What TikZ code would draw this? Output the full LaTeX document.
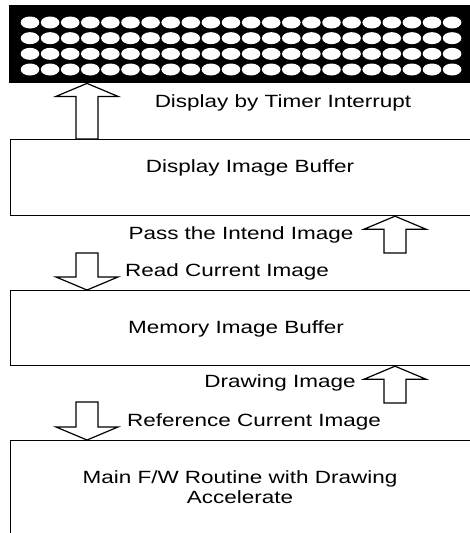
\documentclass[tikz,border=0pt]{standalone}
\usepackage{fontspec}
\setmainfont{Liberation Sans}[FakeStretch=1.27]
\usetikzlibrary{calc}
\newcommand\blkup[2]{%
  \draw[blk] let \p1=(#1), \p2=(#2) in
    (\x1-11pt,\y1) -- (\x1-11pt,\y2-13pt) -- (\x1-31pt,\y2-13pt) -- (\x1,\y2)
    -- (\x1+31pt,\y2-13pt) -- (\x1+11pt,\y2-13pt) -- (\x1+11pt,\y1) -- cycle;}
\newcommand\blkdown[2]{%
  \draw[blk] let \p1=(#1), \p2=(#2) in
    (\x1-11pt,\y1) -- (\x1-11pt,\y2+13pt) -- (\x1-31pt,\y2+13pt) -- (\x1,\y2)
    -- (\x1+31pt,\y2+13pt) -- (\x1+11pt,\y2+13pt) -- (\x1+11pt,\y1) -- cycle;}
\begin{document}
\begin{tikzpicture}[x=1pt,y=-1pt,
  lbl/.style={font=\fontsize{17.7}{20}\selectfont, inner sep=0pt},
  boxn/.style={draw, line width=1.2pt, anchor=north west, inner sep=0pt, minimum width=463pt},
  blk/.style={draw, line width=1.2pt, fill=white, line join=miter}]
\useasboundingbox (0,0) rectangle (470,533);
\clip (0,0) rectangle (470,533);
\fill[white] (0,0) rectangle (470,533);

% LED panel
\node (panel) [fill=black, anchor=north west, minimum width=466.5pt, minimum height=78pt, inner sep=0pt] at (8.5,5) {};
\foreach \i in {0,...,21}
  \foreach \j in {0,...,3}
    \fill[white] (30+20.1*\i, 22.5+15.67*\j) ellipse (9.3pt and 6pt);

% boxes
\node (dib) [boxn, minimum height=76pt] at (9.5,139) {};
\node (mib) [boxn, minimum height=75pt] at (9.5,290) {};
\node (mfw) [boxn, minimum height=110pt] at (9.5,440) {};

\node[lbl] (dibl) at (250,168) {Display Image Buffer};
\node[lbl] (mibl) at (236,329) {Memory Image Buffer};
\node[lbl, align=center] (mfwl) at (240,487) {Main F/W Routine with Drawing\\Accelerate};

% arrows
\coordinate (a1t) at ([xshift=77.5pt]dib.north west);
\blkup{a1t}{panel.south -| a1t}
\coordinate (a2t) at (395,253);
\blkup{a2t}{dib.south -| a2t}
\coordinate (a3t) at (87,253);
\blkdown{a3t}{mib.north -| a3t}
\coordinate (a4t) at (395,403);
\blkup{a4t}{mib.south -| a4t}
\coordinate (a5t) at (87,402);
\blkdown{a5t}{mfw.north -| a5t}

% arrow labels
\node[lbl] (l1) at (283,103) {Display by Timer Interrupt};
\node[lbl] (l2) at (241,235) {Pass the Intend Image};
\node[lbl] (l3) at (227,272) {Read Current Image};
\node[lbl] (l4) at (280,383) {Drawing Image};
\node[lbl] (l5) at (254,422) {Reference Current Image};
\end{tikzpicture}
\end{document}
